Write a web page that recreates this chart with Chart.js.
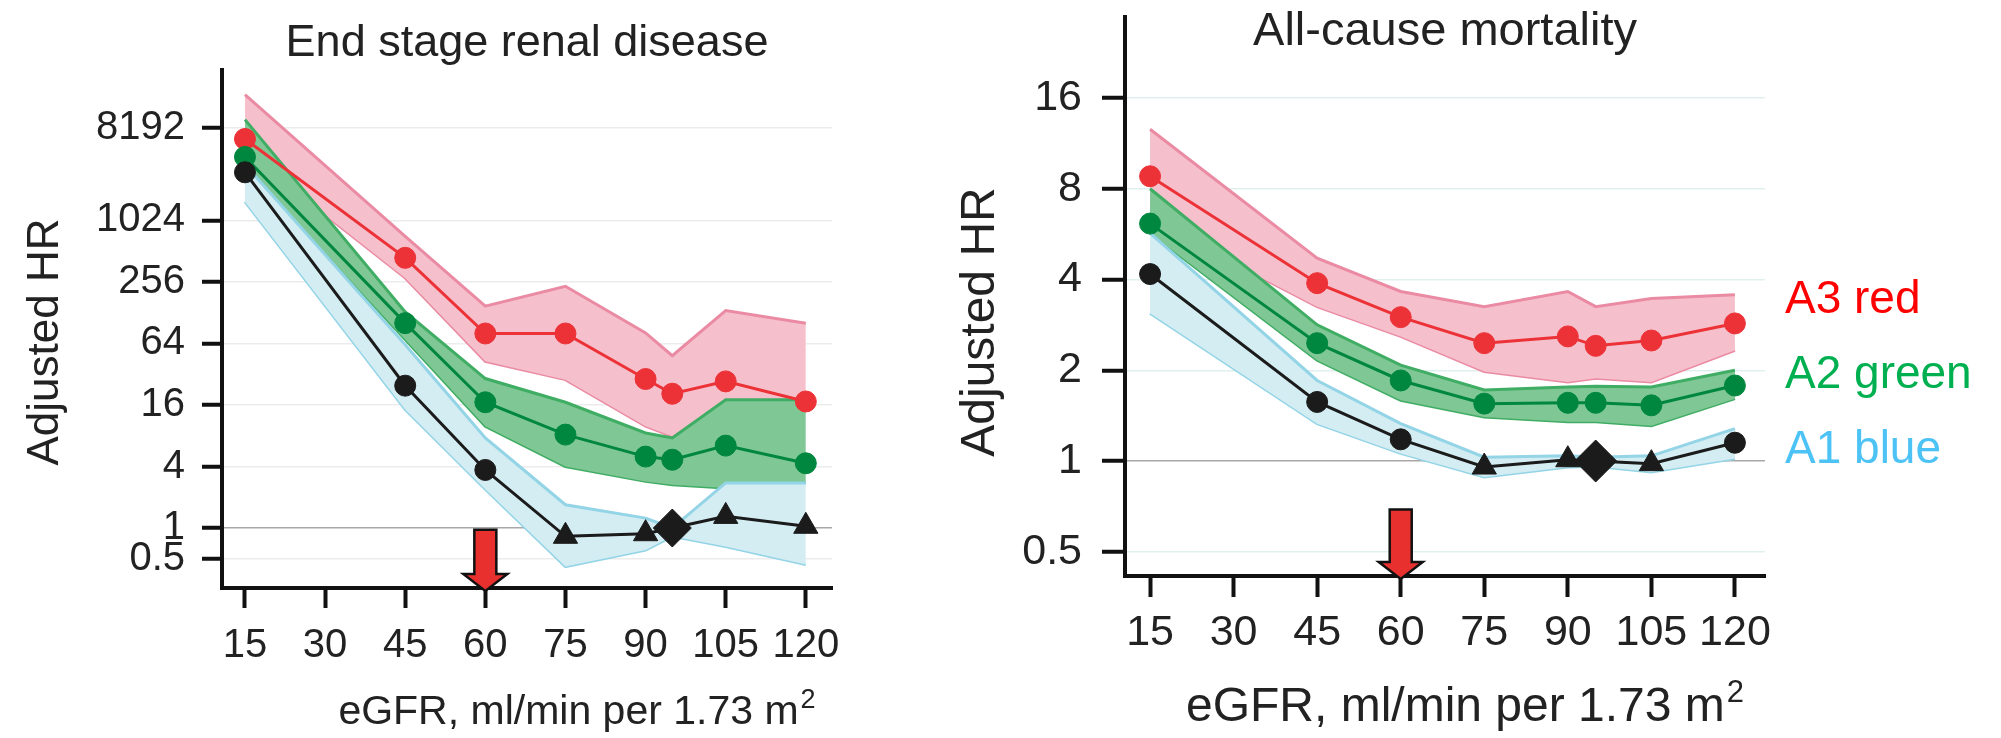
<!DOCTYPE html>
<html>
<head>
<meta charset="utf-8">
<script src="https://cdn.jsdelivr.net/npm/chart.js@4.4.1/dist/chart.umd.min.js"></script>
<style>
  html, body { margin: 0; padding: 0; background: #fff; }
  #wrap { position: relative; width: 2001px; height: 738px; overflow: hidden; }
  #esrd { position: absolute; left: 0; top: 0; }
  #acm { position: absolute; left: 900px; top: 0; }
</style>
</head>
<body>
<div id="wrap">
  <canvas id="esrd" width="900" height="738"></canvas>
  <canvas id="acm" width="1101" height="738"></canvas>
</div>
<script>
// eGFR categories, ml/min per 1.73 m2 (95 is the reference)
const egfr = [15, 45, 60, 75, 90, 95, 105, 120];
const xTicks = [15, 30, 45, 60, 75, 90, 105, 120];

// End stage renal disease - adjusted HR
const esrdTicks = [0.5, 1, 4, 16, 64, 256, 1024, 8192];
const esrdA3 = [6400, 440, 80, 80, 28.7, 20.6, 27.2, 17.3];
const esrdA3Hi = [17400, 713, 148, 232, 81, 48.5, 134, 101];
const esrdA3Lo = [4800, 280, 42.7, 28.3, 9.9, 7.9, 18, 17];
const esrdA2 = [4270, 101, 17, 8.2, 5.0, 4.66, 6.4, 4.3];
const esrdA2Hi = [9900, 130, 29, 17, 8.5, 7.6, 18, 18];
const esrdA2Lo = [3460, 70, 9.9, 4, 2.86, 2.65, 2.46, 2.76];
const esrdA1 = [3020, 24.7, 3.7, 0.83, 0.88, 1, 1.3, 1.04];
const esrdA1Hi = [3600, 62, 7.6, 1.69, 1.25, 1.0, 2.76, 2.76];
const esrdA1Lo = [1560, 14.4, 2.4, 0.42, 0.61, 0.83, 0.66, 0.44];

// All-cause mortality - adjusted HR
const acmTicks = [0.5, 1, 2, 4, 8, 16];
const acmA3 = [8.8, 3.89, 3.0, 2.46, 2.59, 2.41, 2.51, 2.86];
const acmA3Hi = [12.6, 4.71, 3.65, 3.25, 3.65, 3.25, 3.46, 3.56];
const acmA3Lo = [6.3, 3.25, 2.59, 1.98, 1.83, 1.88, 1.83, 2.33];
const acmA2 = [6.13, 2.46, 1.85, 1.55, 1.56, 1.56, 1.53, 1.78];
const acmA2Hi = [8.0, 2.83, 2.08, 1.72, 1.76, 1.77, 1.76, 2.0];
const acmA2Lo = [5.7, 2.16, 1.59, 1.40, 1.35, 1.35, 1.31, 1.61];
const acmA1 = [4.17, 1.57, 1.18, 0.955, 1.01, 1, 0.98, 1.15];
const acmA1Hi = [5.7, 1.85, 1.33, 1.03, 1.04, 1.03, 1.04, 1.28];
const acmA1Lo = [3.09, 1.33, 1.06, 0.885, 0.955, 0.96, 0.92, 1.02];

// the red arrow marks eGFR 60, drawn from this HR down to the axis
const esrdArrow = { at: 60, from: 0.96 };
const acmArrow = { at: 60, from: 0.69 };

const FONT = '"Liberation Sans", Arial, Helvetica, sans-serif';
const TEXT = '#222';
const INK = '#111';
const RED = '#ec3237', GREEN = '#00873f', BLACK = '#1b1b1b';

// marker shapes of the black (A1) series
const esrdShapes = ['circle', 'circle', 'circle', 'triangle', 'triangle', 'rectRot', 'triangle', 'triangle'];
const acmShapes = ['circle', 'circle', 'circle', 'triangle', 'triangle', 'rectRot', 'triangle', 'circle'];

Chart.defaults.font.family = FONT;
Chart.defaults.color = TEXT;

const pts = arr => egfr.map((x, i) => ({ x: x, y: arr[i] }));

function bandPair(hi, lo, fillColor, edgeColor) {
  return [
    { data: pts(hi), borderColor: edgeColor, borderWidth: 3, pointRadius: 0, fill: '+1', backgroundColor: fillColor },
    { data: pts(lo), borderColor: edgeColor, borderWidth: 3, pointRadius: 0, fill: false }
  ];
}

function series(arr, color, shapes, sizes) {
  return {
    data: pts(arr),
    borderColor: color,
    backgroundColor: color,
    borderWidth: 3,
    fill: false,
    pointStyle: shapes,
    pointRadius: shapes.map(s => sizes[s]),
    pointBackgroundColor: color,
    pointBorderColor: color,
    pointBorderWidth: 1
  };
}

// draws the titles, axis captions and the side legend as canvas text
const captionPlugin = {
  id: 'captions',
  afterDraw(chart, args, opts) {
    const ctx = chart.ctx;
    (opts.items || []).forEach(item => {
      ctx.save();
      ctx.translate(item.x, item.y);
      if (item.rotate) ctx.rotate(item.rotate);
      ctx.textBaseline = 'alphabetic';
      ctx.textAlign = 'left';
      ctx.fillStyle = item.color || TEXT;
      ctx.font = item.size + 'px ' + FONT;
      const mainW = ctx.measureText(item.text).width;
      let supW = 0;
      const supSize = Math.round(item.size * 0.65);
      if (item.sup) {
        ctx.font = supSize + 'px ' + FONT;
        supW = ctx.measureText(item.sup).width + 2;
      }
      const x0 = item.align === 'left' ? 0 : -(mainW + supW) / 2;
      ctx.font = item.size + 'px ' + FONT;
      ctx.fillText(item.text, x0, 0);
      if (item.sup) {
        ctx.font = supSize + 'px ' + FONT;
        ctx.fillText(item.sup, x0 + mainW + 2, -item.size * 0.4);
      }
      ctx.restore();
    });
  }
};

// red down arrow pointing at eGFR 60
const arrowPlugin = {
  id: 'cutoffArrow',
  afterDatasetsDraw(chart, args, opts) {
    if (!opts.at) return;
    const { ctx, chartArea, scales } = chart;
    const px = scales.x.getPixelForValue(opts.at);
    const top = scales.y.getPixelForValue(opts.from);
    const tip = chartArea.bottom + 3;
    const shaft = 11, head = 22, headLen = 17;
    ctx.save();
    ctx.beginPath();
    ctx.moveTo(px - shaft, top);
    ctx.lineTo(px + shaft, top);
    ctx.lineTo(px + shaft, tip - headLen);
    ctx.lineTo(px + head, tip - headLen);
    ctx.lineTo(px, tip);
    ctx.lineTo(px - head, tip - headLen);
    ctx.lineTo(px - shaft, tip - headLen);
    ctx.closePath();
    ctx.fillStyle = '#e8302e';
    ctx.fill();
    ctx.lineWidth = 2.5;
    ctx.strokeStyle = INK;
    ctx.stroke();
    ctx.restore();
  }
};

function makePanel(canvasId, p) {
  const sizes = { circle: 10.5, triangle: 14, rectRot: p.diamond };
  const datasets = [
    series(p.a1, BLACK, p.shapes, sizes),
    series(p.a2, GREEN, p.a2.map(() => 'circle'), sizes),
    series(p.a3, RED, p.a3.map(() => 'circle'), sizes),
    ...bandPair(p.a1Hi, p.a1Lo, '#d4edf3', '#93d4e6'),
    ...bandPair(p.a2Hi, p.a2Lo, '#7fc795', '#40ad64'),
    ...bandPair(p.a3Hi, p.a3Lo, '#f5c0cc', '#ea8ba3')
  ];

  return new Chart(document.getElementById(canvasId), {
    type: 'line',
    data: { datasets: datasets },
    plugins: [captionPlugin, arrowPlugin],
    options: {
      responsive: false,
      animation: false,
      devicePixelRatio: 1,
      layout: { padding: p.padding },
      plugins: {
        legend: { display: false },
        tooltip: { enabled: false },
        captions: { items: p.captions },
        cutoffArrow: p.arrow
      },
      scales: {
        x: {
          type: 'linear',
          min: p.xMin,
          max: p.xMax,
          afterBuildTicks: sc => { sc.ticks = xTicks.map(v => ({ value: v })); },
          afterFit: sc => {
            sc.height = p.xHeight;
            sc.paddingLeft = 0;
            sc.paddingRight = 0;
          },
          grid: { drawOnChartArea: false, drawTicks: true, tickLength: p.xTickLen, tickWidth: 4, tickColor: INK },
          border: { display: true, color: INK, width: 4 },
          ticks: { font: { size: p.tickSize }, color: TEXT, padding: p.xTickPad, maxRotation: 0, autoSkip: false }
        },
        y: {
          type: 'logarithmic',
          min: p.yMin,
          max: p.yMax,
          afterBuildTicks: sc => { sc.ticks = p.yTicks.map(v => ({ value: v })); },
          afterFit: sc => {
            sc.width = p.yWidth;
            sc.paddingTop = 0;
            sc.paddingBottom = 0;
          },
          grid: {
            color: c => (c.tick && c.tick.value === 1) ? '#a8a8a8' : p.gridColor,
            lineWidth: 1.5,
            tickLength: p.yTickLen,
            tickWidth: 4,
            tickColor: INK
          },
          border: { display: true, color: INK, width: 4 },
          ticks: { callback: v => String(v), font: { size: p.tickSize }, color: TEXT, padding: p.yTickPad, autoSkip: false }
        }
      }
    }
  });
}

makePanel('esrd', {
  a3: esrdA3, a3Hi: esrdA3Hi, a3Lo: esrdA3Lo,
  a2: esrdA2, a2Hi: esrdA2Hi, a2Lo: esrdA2Lo,
  a1: esrdA1, a1Hi: esrdA1Hi, a1Lo: esrdA1Lo,
  shapes: esrdShapes,
  diamond: 19,
  yTicks: esrdTicks,
  yMin: 0.259, yMax: 30260,
  xMin: 10.7, xMax: 124.9,
  padding: { top: 70, right: 68, bottom: 0, left: 0 },
  yWidth: 222, xHeight: 150,
  xTickLen: 20, yTickLen: 20,
  xTickPad: 14, yTickPad: 17,
  tickSize: 40,
  gridColor: '#ececec',
  arrow: esrdArrow,
  captions: [
    { text: 'End stage renal disease', size: 45, x: 527, y: 56 },
    { text: 'Adjusted HR', size: 44, x: 58, y: 342, rotate: -Math.PI / 2 },
    { text: 'eGFR, ml/min per 1.73 m', sup: '2', size: 41, x: 577, y: 724 }
  ]
});

makePanel('acm', {
  a3: acmA3, a3Hi: acmA3Hi, a3Lo: acmA3Lo,
  a2: acmA2, a2Hi: acmA2Hi, a2Lo: acmA2Lo,
  a1: acmA1, a1Hi: acmA1Hi, a1Lo: acmA1Lo,
  shapes: acmShapes,
  diamond: 21,
  yTicks: acmTicks,
  yMin: 0.4155, yMax: 29.7,
  xMin: 10.5, xMax: 125.4,
  padding: { top: 17, right: 236, bottom: 0, left: 0 },
  yWidth: 225, xHeight: 162,
  xTickLen: 21, yTickLen: 23,
  xTickPad: 10, yTickPad: 20,
  tickSize: 43,
  gridColor: '#dff0ef',
  arrow: acmArrow,
  captions: [
    { text: 'All-cause mortality', size: 47, x: 545, y: 45 },
    { text: 'Adjusted HR', size: 48, x: 94, y: 322, rotate: -Math.PI / 2 },
    { text: 'eGFR, ml/min per 1.73 m', sup: '2', size: 48, x: 565, y: 721 },
    { text: 'A3 red', size: 46, x: 885, y: 313, align: 'left', color: '#ff0000' },
    { text: 'A2 green', size: 46, x: 885, y: 388, align: 'left', color: '#00b050' },
    { text: 'A1 blue', size: 46, x: 885, y: 463, align: 'left', color: '#4dc3f5' }
  ]
});
</script>
</body>
</html>
